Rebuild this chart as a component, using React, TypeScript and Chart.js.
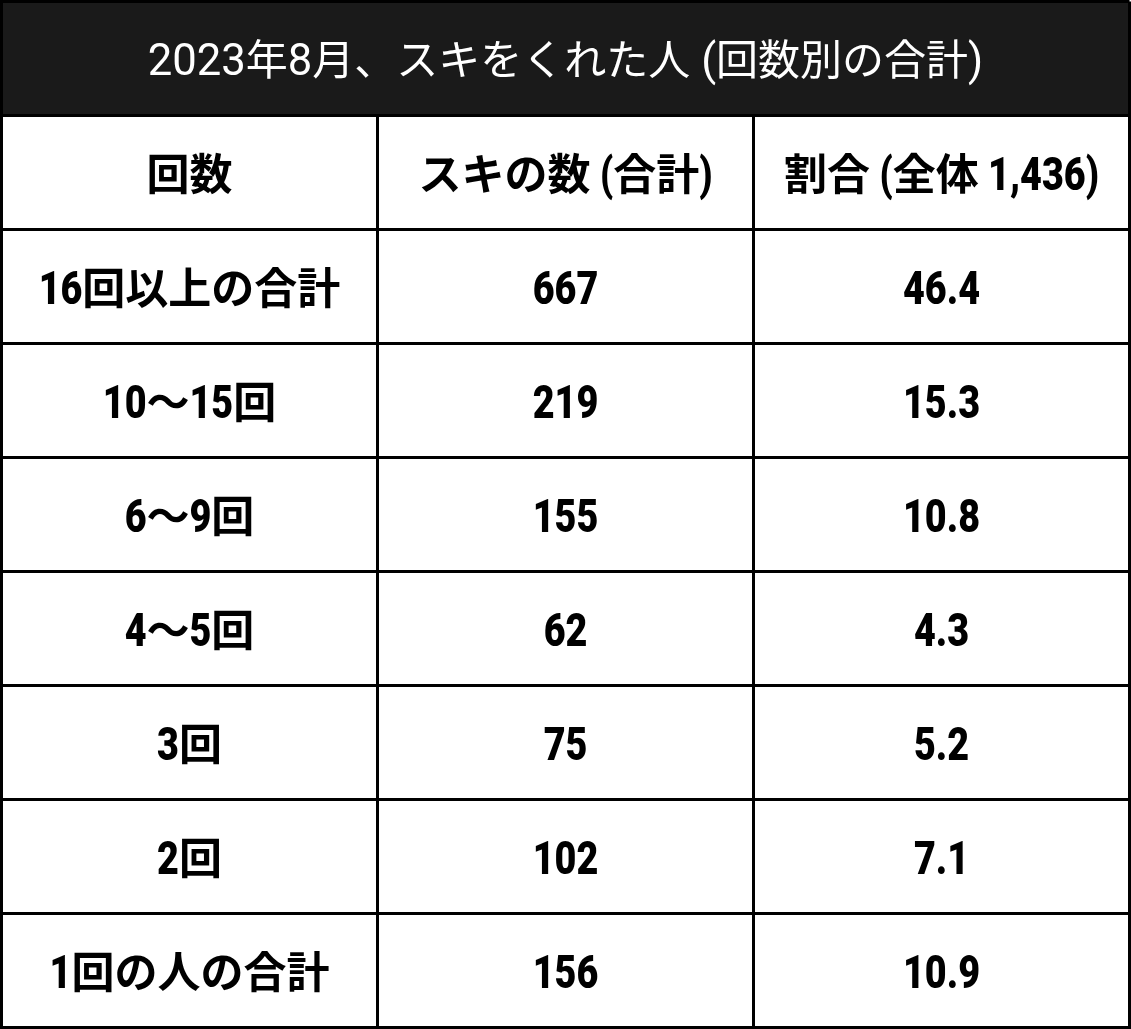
import React, { useEffect, useRef } from "react";
import { Chart, registerables } from "chart.js";

Chart.register(...registerables);

const titleText = "2023年8月、スキをくれた人 (回数別の合計)";
const headers = ["回数", "スキの数 (合計)", "割合 (全体 1,436)"];
const categories = ["16回以上の合計", "10〜15回", "6〜9回", "4〜5回", "3回", "2回", "1回の人の合計"];
const counts = [667, 219, 155, 62, 75, 102, 156];
const shares = [46.4, 15.3, 10.8, 4.3, 5.2, 7.1, 10.9];

const NCOLS = 3;
const NROWS = categories.length + 2;

const BODY_STYLE = {
  cjk: "bold 43px 'Noto Sans CJK JP', sans-serif",
  latin: "900 46px Roboto, 'Noto Sans', sans-serif",
  scale: 0.82,
  color: "#000000",
};
const TITLE_STYLE = {
  cjk: "42px 'Noto Sans CJK JP', sans-serif",
  latin: "45px Roboto, 'Noto Sans', sans-serif",
  scale: 0.97,
  color: "#ffffff",
};

function splitRuns(text: string) {
  const runs: { t: string; cjk: boolean }[] = [];
  for (const ch of text) {
    const cjk = ch.charCodeAt(0) > 0x2000;
    const last = runs[runs.length - 1];
    if (last && last.cjk === cjk) last.t += ch;
    else runs.push({ t: ch, cjk });
  }
  return runs;
}

function drawMixed(ctx: CanvasRenderingContext2D, text: string, cx: number, baseY: number, st: any) {
  const runs = splitRuns(text);
  const widths = runs.map((r) => {
    ctx.font = r.cjk ? st.cjk : st.latin;
    const w = ctx.measureText(r.t).width;
    return r.cjk ? w : w * st.scale;
  });
  const total = widths.reduce((a, b) => a + b, 0);
  let x = cx - total / 2;
  ctx.textAlign = "left";
  ctx.textBaseline = "alphabetic";
  ctx.fillStyle = st.color;
  runs.forEach((r, i) => {
    ctx.save();
    ctx.font = r.cjk ? st.cjk : st.latin;
    ctx.translate(x, baseY);
    if (!r.cjk) ctx.scale(st.scale, 1);
    ctx.fillText(r.t, 0, 0);
    ctx.restore();
    x += widths[i];
  });
}

const tablePlugin = {
  id: "tableCells",
  beforeDraw(chart: any) {
    const ctx = chart.ctx;
    ctx.save();
    ctx.fillStyle = "#ffffff";
    ctx.fillRect(0, 0, chart.width, chart.height);
    ctx.restore();
  },
  beforeDatasetsDraw(chart: any) {
    const ctx = chart.ctx;
    const xs = chart.scales.x;
    const ys = chart.scales.y;
    const x0 = xs.getPixelForValue(0);
    const x1 = xs.getPixelForValue(NCOLS);
    const y0 = ys.getPixelForValue(0);
    const y1 = ys.getPixelForValue(1);
    ctx.save();
    ctx.fillStyle = "#1a1a1a";
    ctx.fillRect(x0 + 1.5, y0 + 1.5, x1 - x0 - 3, y1 - y0 - 3);
    ctx.restore();
  },
  afterDraw(chart: any) {
    const ctx = chart.ctx;
    const xs = chart.scales.x;
    const ys = chart.scales.y;
    ctx.save();
    drawMixed(ctx, titleText, xs.getPixelForValue(NCOLS / 2), ys.getPixelForValue(0.5) + 16.5, TITLE_STYLE);
    headers.forEach((h, c) => {
      drawMixed(ctx, h, xs.getPixelForValue(c + 0.5), ys.getPixelForValue(1.5) + 17, BODY_STYLE);
    });
    categories.forEach((cat, i) => {
      const y = ys.getPixelForValue(2 + i + 0.5) + 17.5;
      drawMixed(ctx, cat, xs.getPixelForValue(0.5), y, BODY_STYLE);
      drawMixed(ctx, String(counts[i]), xs.getPixelForValue(1.5), y, BODY_STYLE);
      drawMixed(ctx, shares[i].toFixed(1), xs.getPixelForValue(2.5), y, BODY_STYLE);
    });
    ctx.restore();
  },
};

export default function App() {
  const ref = useRef<HTMLCanvasElement | null>(null);
  useEffect(() => {
    document.body.style.margin = "0";
    const canvas = ref.current;
    if (!canvas) return;
    const lineOpts = {
      grid: { color: "#000000", lineWidth: 3, drawTicks: false },
      border: { display: true, color: "#000000", width: 3 },
      ticks: { display: false, stepSize: 1 },
    };
    const chart = new Chart(canvas, {
      type: "scatter",
      data: { datasets: [{ data: [], showLine: false }] },
      options: {
        responsive: false,
        animation: false,
        devicePixelRatio: 1,
        layout: { padding: { left: 1.5, right: 1.5, top: 1.5, bottom: 1.5 } },
        plugins: { legend: { display: false }, tooltip: { enabled: false }, title: { display: false } },
        scales: {
          x: { type: "linear", min: 0, max: NCOLS, ...lineOpts },
          y: { type: "linear", min: 0, max: NROWS, reverse: true, ...lineOpts },
        },
      },
      plugins: [tablePlugin],
    });
    return () => chart.destroy();
  }, []);
  return (
    <canvas ref={ref} width={1131} height={1029} style={{ display: "block", width: 1131, height: 1029 }} />
  );
}
